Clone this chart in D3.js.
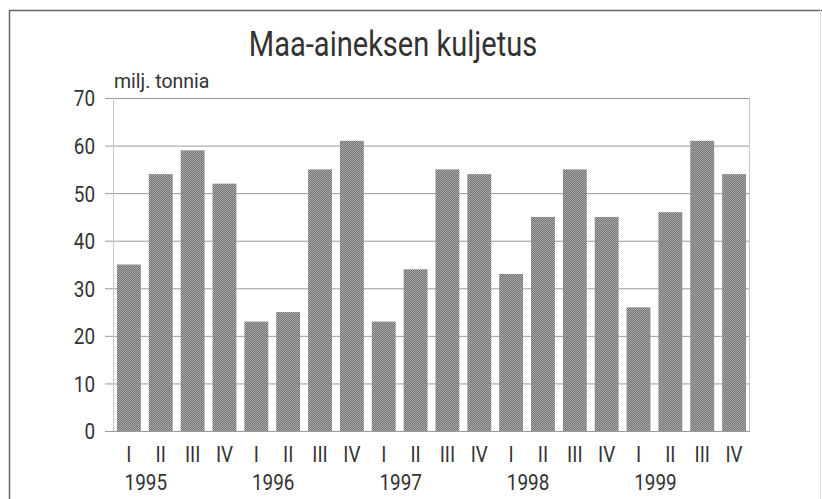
<!DOCTYPE html>
<html>
<head>
<meta charset="utf-8">
<script src="https://cdn.jsdelivr.net/npm/d3@7.9.0/dist/d3.min.js"></script>
<style>
  body { margin: 0; background: #fff; }
  svg text { font-family: Roboto, "Liberation Sans", sans-serif; fill: #333; }
</style>
</head>
<body>
<script>
// quarters and years
const quarters = ["I", "II", "III", "IV"];
const years = ["1995", "1996", "1997", "1998", "1999"];
// million tonnes per quarter, 1995 I ... 1999 IV
const values = [35, 54, 59, 52, 23, 25, 55, 61, 23, 34, 55, 54, 33, 45, 55, 45, 26, 46, 61, 54];
const yTicks = [0, 10, 20, 30, 40, 50, 60, 70];

const data = values.map((v, i) => ({
    key: years[Math.floor(i / 4)] + "-" + quarters[i % 4],
    q: quarters[i % 4],
    year: years[Math.floor(i / 4)],
    value: v
}));

const W = 822, H = 499;
const margin = { top: 98, right: 72, bottom: 68, left: 113 };
const width = W - margin.left - margin.right;
const height = H - margin.top - margin.bottom;

// squeeze text horizontally around its anchor point (narrow typeface look)
function condense(sel, s) {
    sel.each(function() {
        const t = d3.select(this);
        const x = +t.attr("x") || 0, y = +t.attr("y") || 0;
        t.attr("transform", `translate(${x},${y}) scale(${s},1) translate(${-x},${-y})`);
    });
}

const svg = d3.select("body").append("svg")
    .attr("width", W)
    .attr("height", H);

// halftone-like fill for the bars
const defs = svg.append("defs");
const pat = defs.append("pattern")
    .attr("id", "dots")
    .attr("width", 2)
    .attr("height", 2)
    .attr("patternUnits", "userSpaceOnUse");
pat.append("rect").attr("width", 2).attr("height", 2).attr("fill", "#ababab");
pat.append("rect").attr("width", 1).attr("height", 1).attr("fill", "#727272");
pat.append("rect").attr("x", 1).attr("y", 1).attr("width", 1).attr("height", 1).attr("fill", "#727272");

// outer frame
svg.append("line").attr("x1", 9).attr("x2", 822).attr("y1", 10.5).attr("y2", 10.5)
    .attr("stroke", "#666").attr("stroke-width", 1.5);
svg.append("line").attr("x1", 9.5).attr("x2", 9.5).attr("y1", 10).attr("y2", H)
    .attr("stroke", "#666").attr("stroke-width", 1.5);
svg.append("line").attr("x1", 820.5).attr("x2", 820.5).attr("y1", 10).attr("y2", H)
    .attr("stroke", "#ddd").attr("stroke-width", 1);

// title
svg.append("text")
    .attr("x", 393)
    .attr("y", 56)
    .attr("text-anchor", "middle")
    .style("font-size", "35px")
    .text("Maa-aineksen kuljetus")
    .call(condense, 0.83);

const g = svg.append("g")
    .attr("transform", `translate(${margin.left},${margin.top})`);

const x = d3.scaleBand()
    .domain(data.map(d => d.key))
    .range([0, width])
    .paddingInner(0.25)
    .paddingOuter(0.125);

const y = d3.scaleLinear()
    .domain([0, 70])
    .range([height, 0]);

// gridlines with ticks sticking out to the left
g.append("g")
    .call(d3.axisLeft(y).tickValues(yTicks).tickSize(-width - 8).tickPadding(10))
    .attr("transform", "translate(-8,0)")
    .call(a => a.select(".domain").remove())
    .call(a => a.selectAll(".tick line").attr("x1", 0).attr("x2", width + 8).attr("stroke", "#9a9a9a"))
    .call(a => a.selectAll(".tick text").style("font-size", "22px").attr("fill", "#333").attr("dy", "0.36em")
        .call(condense, 0.86));

// plot frame (left and right)
g.append("line").attr("x1", 0.5).attr("x2", 0.5).attr("y1", 0).attr("y2", height)
    .attr("stroke", "#c8c8c8");
g.append("line").attr("x1", width - 0.5).attr("x2", width - 0.5).attr("y1", 0).attr("y2", height)
    .attr("stroke", "#c8c8c8");

// bars
g.selectAll(".bar")
    .data(data)
    .enter().append("rect")
    .attr("class", "bar")
    .attr("x", d => x(d.key))
    .attr("y", d => y(d.value))
    .attr("width", x.bandwidth())
    .attr("height", d => height - y(d.value))
    .attr("fill", "url(#dots)");

// quarter labels
g.selectAll(".qlab")
    .data(data)
    .enter().append("text")
    .attr("class", "qlab")
    .attr("x", d => x(d.key) + x.bandwidth() / 2)
    .attr("y", height + 31)
    .attr("text-anchor", "middle")
    .style("font-size", "22px")
    .text(d => d.q)
    .call(condense, 0.86);

// year labels, centred between quarters I and II
g.selectAll(".ylab")
    .data(years)
    .enter().append("text")
    .attr("class", "ylab")
    .attr("x", d => (x(d + "-I") + x(d + "-II") + x.bandwidth()) / 2 + 1)
    .attr("y", height + 59)
    .attr("text-anchor", "middle")
    .style("font-size", "22px")
    .text(d => d)
    .call(condense, 0.86);

// unit label
g.append("text")
    .attr("x", 1)
    .attr("y", -10)
    .style("font-size", "19.5px")
    .text("milj. tonnia");
</script>
</body>
</html>
